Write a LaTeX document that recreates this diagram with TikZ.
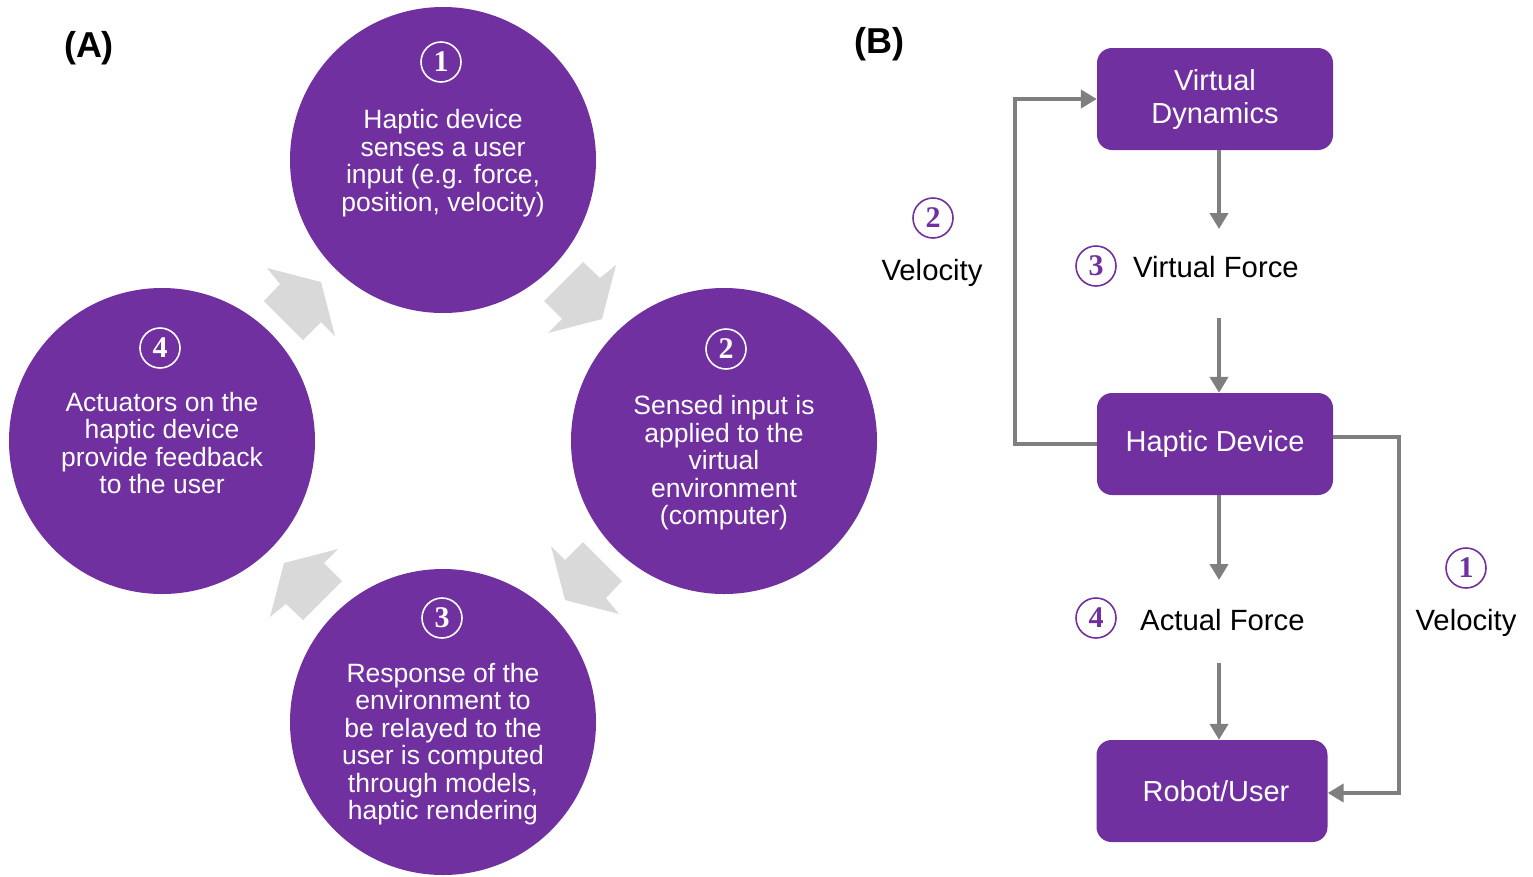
\documentclass[tikz,border=0pt]{standalone}
\usepackage{fontspec}
\setmainfont{Liberation Sans}
\newfontfamily\numfont{Liberation Serif}
\usetikzlibrary{arrows.meta}
\definecolor{hpurple}{HTML}{7030A0}
\definecolor{hgrey}{HTML}{7F7F7F}
\definecolor{hlight}{HTML}{D9D9D9}

\begin{document}
\begin{tikzpicture}[x=1pt, y=-1pt,
  stage/.style={circle, fill=hpurple, minimum size=306pt, inner sep=0pt},
  stagetext/.style={text=white, align=center, inner sep=0pt, font=\fontsize{26.5}{27.5}\selectfont},
  anum/.style={circle, draw=white, line width=1.6pt, minimum size=40pt, inner sep=0pt, text=white, font=\fontsize{30}{30}\numfont\bfseries},
  bnum/.style={anum, draw=hpurple, text=hpurple},
  block/.style={rounded corners=15pt, fill=hpurple, text=white, minimum width=236pt, minimum height=102pt, align=center, font=\fontsize{29}{33}\selectfont},
  lbl/.style={inner sep=0pt, font=\fontsize{29.3}{33}\selectfont},
  tag/.style={font=\fontsize{36}{36}\selectfont\bfseries},
  flow/.style={draw=hgrey, line width=4pt, -{Triangle[length=16pt,width=18pt]}},
]
  \useasboundingbox (0,0) rectangle (1533,876);

  %--- Panel A: the haptic loop ---
  \node[tag] (tagA) at (89,48) {(A)};

  % grey block arrows between the stages
  \foreach \ang in {0,-90,-180,-270} {
    \begin{scope}[shift={(443,441)}, rotate=\ang]
      \fill[hlight] (140,-179) -- (157,-163) -- (173,-176) -- (159,-122)
        -- (105,-108) -- (119,-122) -- (101,-140) -- cycle;
    \end{scope}
  }

  % stage 1
  \node[stage] (sense) at (443,160) {};
  \node[anum] (n1) at (441,62) {1};
  \node[stagetext] (t1) at (443,163) {Haptic device\\senses a user\\input (e.g. force,\\position, velocity)};

  % stage 2
  \node[stage] (apply) at (724,441) {};
  \node[anum] (n2) at (726,349) {2};
  \node[stagetext] (t2) at (724,463) {Sensed input is\\applied to the\\virtual\\environment\\(computer)};

  % stage 3
  \node[stage] (respond) at (443,722) {};
  \node[anum] (n3) at (442,618) {3};
  \node[stagetext] (t3) at (443,744) {Response of the\\environment to\\be relayed to the\\user is computed\\through models,\\haptic rendering};

  % stage 4
  \node[stage] (feedback) at (162,441) {};
  \node[anum] (n4) at (160,348) {4};
  \node[stagetext] (t4) at (162,443) {Actuators on the\\haptic device\\provide feedback\\to the user};

  %--- Panel B: block diagram ---
  \node[tag] (tagB) at (879,44) {(B)};

  \node[block] (vd) at (1215,99) {Virtual\\Dynamics};
  \node[block] (hd) at (1215,444) {Haptic Device};
  \node[block, minimum width=231pt] (ru) at (1212,791) {\hspace*{8pt}Robot/User};

  % labels on the middle column
  \node[bnum] (n3b) at (1096,266) {3};
  \node[lbl, anchor=west] (vf) at (1133,267) {Virtual Force};
  \node[bnum] (n4b) at (1096,618) {4};
  \node[lbl, anchor=west] (af) at (1140,620) {Actual Force};

  % labels on the loops
  \node[bnum] (n2b) at (933,218) {2};
  \node[lbl] (vell) at (932,273) {Velocity};
  \node[bnum] (n1b) at (1466,568) {1};
  \node[lbl] (velr) at (1466,623) {Velocity};

  % arrow ends between the blocks
  \coordinate (vfa) at (1219,229);
  \coordinate (vfb) at (1219,318);
  \coordinate (afa) at (1219,580);
  \coordinate (afb) at (1219,663);

  \draw[flow] (vd.south -| vfa) -- (vfa);
  \draw[flow] (vfb) -- (hd.north -| vfb);
  \draw[flow] (hd.south -| afa) -- (afa);
  \draw[flow] (afb) -- (ru.north -| afb);

  % velocity loops
  \draw[flow] (hd.west) -- ++(-82,0) |- (vd.west);
  \draw[flow] ([yshift=7pt]hd.east) -- ++(66,0) |- ([yshift=-2pt]ru.east);

\end{tikzpicture}
\end{document}
